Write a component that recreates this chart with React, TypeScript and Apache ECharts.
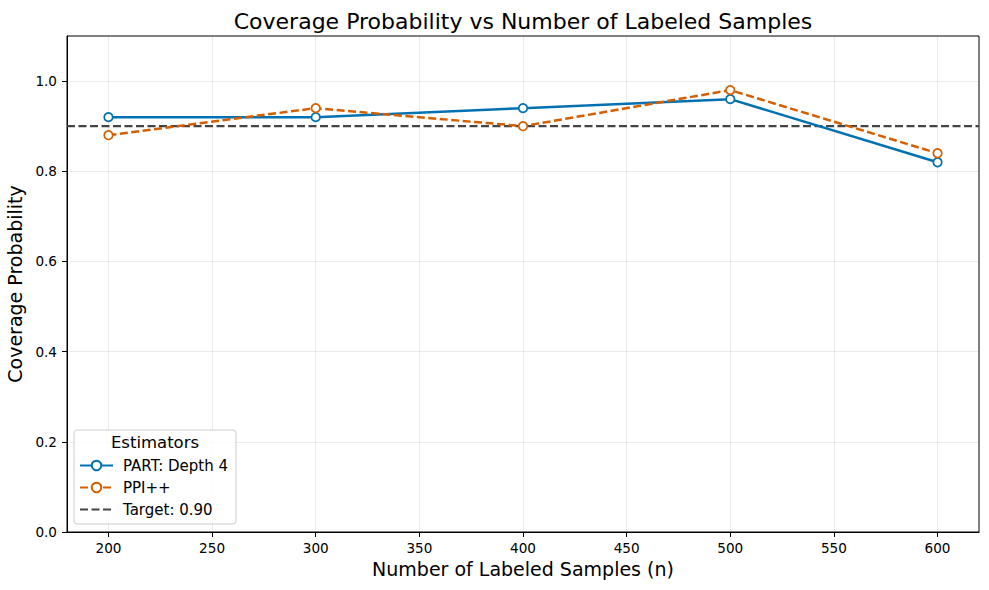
import React, { useEffect, useRef } from "react";
import * as echarts from "echarts";

const sampleSizes = [200, 300, 400, 500, 600];
const partDepth4 = [0.92, 0.92, 0.94, 0.96, 0.82];
const ppiPlusPlus = [0.88, 0.94, 0.9, 0.98, 0.84];
const targetValue = 0.9;
const xTicks = [200, 250, 300, 350, 400, 450, 500, 550, 600];
const yTicks = [0, 0.2, 0.4, 0.6, 0.8, 1.0];
const xRange = [180, 620];
const yRange = [0, 1.1];

const FONT = "DejaVu Sans";

export default function App() {
  const ref = useRef<HTMLDivElement>(null);
  useEffect(() => {
    if (!ref.current) return;
    const chart = echarts.init(ref.current, undefined, { renderer: "svg" });
    const markerStyle = (color: string) => ({
      color: "#ffffff",
      borderColor: color,
      borderWidth: 1.7,
    });
    chart.setOption({
      animation: false,
      textStyle: { fontFamily: FONT },
      grid: {
        left: 67,
        right: 10,
        top: 36,
        bottom: 58,
        show: true,
        borderColor: "#000",
        borderWidth: 1,
        outerBoundsMode: "none",
        containLabel: false,
      },
      xAxis: {
        type: "value",
        min: xRange[0],
        max: xRange[1],
        name: "Number of Labeled Samples (n)",
        nameLocation: "middle",
        nameGap: 27,
        nameTextStyle: { fontFamily: FONT, fontSize: 19, color: "#000" },
        axisLine: { show: true, lineStyle: { color: "#000", width: 1 } },
        axisTick: { show: true, length: 5, lineStyle: { color: "#000" }, customValues: xTicks },
        axisLabel: {
          customValues: xTicks,
          fontFamily: FONT,
          fontSize: 13.6,
          color: "#000",
          margin: 9,
        },
        splitLine: { show: true, lineStyle: { color: "#000", opacity: 0.1, width: 0.8 } },
      },
      yAxis: {
        type: "value",
        min: yRange[0],
        max: yRange[1],
        name: "Coverage Probability",
        nameLocation: "middle",
        nameGap: 35,
        nameTextStyle: { fontFamily: FONT, fontSize: 19, color: "#000" },
        axisLine: { show: true, lineStyle: { color: "#000", width: 1 } },
        axisTick: { show: true, length: 5, lineStyle: { color: "#000" }, customValues: yTicks },
        axisLabel: {
          customValues: yTicks,
          formatter: (v: number) => v.toFixed(1),
          fontFamily: FONT,
          fontSize: 13.6,
          color: "#000",
          margin: 10,
        },
        splitLine: { show: true, lineStyle: { color: "#000", opacity: 0.1, width: 0.8 } },
      },
      legend: {
        orient: "vertical",
        left: 79,
        top: 458,
        padding: 0,
        itemWidth: 33,
        itemHeight: 12,
        itemGap: 7,
        textStyle: { fontFamily: FONT, fontSize: 15, color: "#000", padding: [0, 0, 0, 5] },
        data: [
          { name: "PART: Depth 4" },
          { name: "PPI++" },
          { name: "Target: 0.90", itemStyle: { opacity: 0 } },
        ],
      },
      graphic: [
        {
          type: "text",
          x: 523,
          y: 21,
          style: {
            text: "Coverage Probability vs Number of Labeled Samples",
            fontFamily: FONT,
            fontSize: 22,
            fill: "#000",
            textAlign: "center",
            textVerticalAlign: "middle",
          },
        },
        {
          type: "rect",
          x: 74,
          y: 430,
          shape: { width: 162, height: 94, r: 3 },
          style: { fill: "rgba(255,255,255,0.8)", stroke: "#cccccc", lineWidth: 1 },
          z: 1,
        },
        {
          type: "text",
          x: 155,
          y: 442,
          style: {
            text: "Estimators",
            fontFamily: FONT,
            fontSize: 16.5,
            fill: "#000",
            textAlign: "center",
            textVerticalAlign: "middle",
          },
          z: 2,
        },
      ],
      series: [
        {
          name: "Target: 0.90",
          type: "line",
          data: [
            [xRange[0], targetValue],
            [xRange[1], targetValue],
          ],
          symbol: "none",
          lineStyle: { color: "#444444", width: 2.2, type: [8, 3.5] },
          itemStyle: { color: "#444444" },
          z: 3,
        },
        {
          name: "PART: Depth 4",
          type: "line",
          data: sampleSizes.map((x, i) => [x, partDepth4[i]]),
          symbol: "circle",
          symbolSize: 8.5,
          lineStyle: { color: "#0072B2", width: 2.5 },
          itemStyle: markerStyle("#0072B2"),
          z: 4,
        },
        {
          name: "PPI++",
          type: "line",
          data: sampleSizes.map((x, i) => [x, ppiPlusPlus[i]]),
          symbol: "circle",
          symbolSize: 8.5,
          lineStyle: { color: "#D55E00", width: 2.5, type: [8, 3.5] },
          itemStyle: markerStyle("#D55E00"),
          z: 5,
        },
      ],
    });
    return () => chart.dispose();
  }, []);
  return (
    <div
      ref={ref}
      style={{ position: "absolute", left: 0, top: 0, width: 989, height: 590 }}
    />
  );
}
